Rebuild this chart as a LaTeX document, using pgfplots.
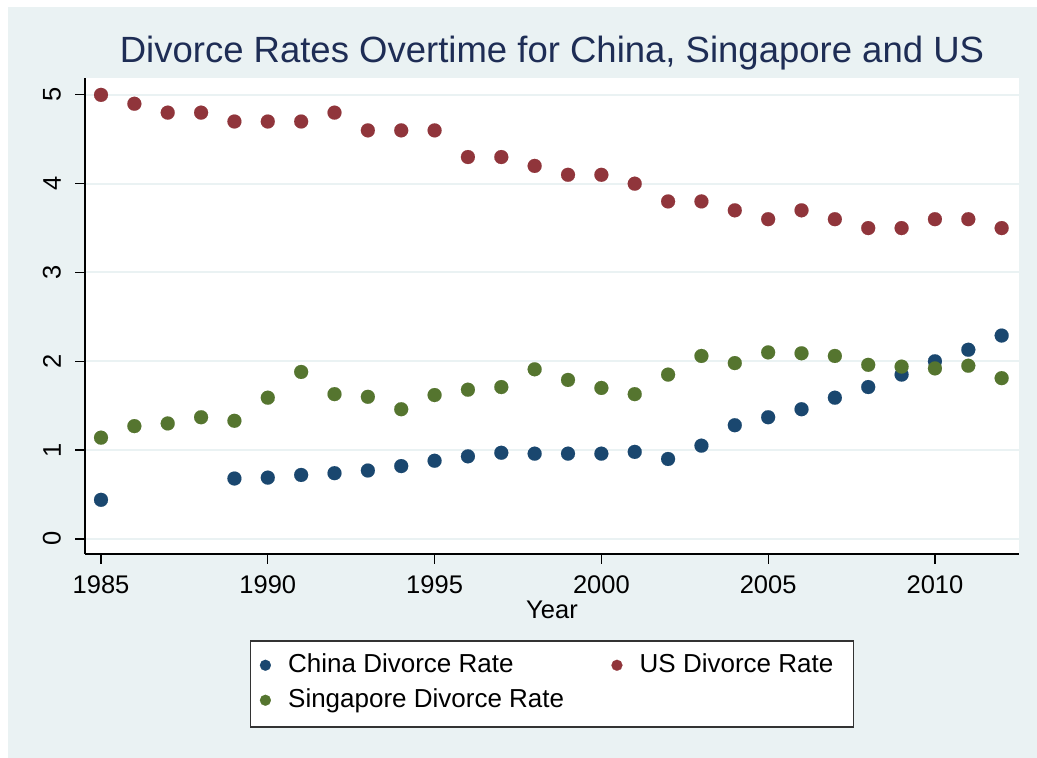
\documentclass[border=0pt]{standalone}
\usepackage{pgfplots}
\pgfplotsset{compat=1.18}
\usepackage{fontspec}
\setmainfont{Liberation Sans}
\definecolor{bgc}{RGB}{234,242,243}
\definecolor{gridc}{RGB}{234,242,243}
\definecolor{titlec}{RGB}{30,45,85}
\definecolor{cnavy}{RGB}{26,71,111}
\definecolor{cmaroon}{RGB}{144,53,59}
\definecolor{cgreen}{RGB}{85,117,47}
\pgfplotstableread{
year china
1985 0.44
1989 0.68
1990 0.69
1991 0.72
1992 0.74
1993 0.77
1994 0.82
1995 0.88
1996 0.93
1997 0.97
1998 0.96
1999 0.96
2000 0.96
2001 0.98
2002 0.90
2003 1.05
2004 1.28
2005 1.37
2006 1.46
2007 1.59
2008 1.71
2009 1.85
2010 2.00
2011 2.13
2012 2.29
}\chinatable
\pgfplotstableread{
year us
1985 5.0
1986 4.9
1987 4.8
1988 4.8
1989 4.7
1990 4.7
1991 4.7
1992 4.8
1993 4.6
1994 4.6
1995 4.6
1996 4.3
1997 4.3
1998 4.2
1999 4.1
2000 4.1
2001 4.0
2002 3.8
2003 3.8
2004 3.7
2005 3.6
2006 3.7
2007 3.6
2008 3.5
2009 3.5
2010 3.6
2011 3.6
2012 3.5
}\ustable
\pgfplotstableread{
year sg
1985 1.14
1986 1.27
1987 1.30
1988 1.37
1989 1.33
1990 1.59
1991 1.88
1992 1.63
1993 1.60
1994 1.46
1995 1.62
1996 1.68
1997 1.71
1998 1.91
1999 1.79
2000 1.70
2001 1.63
2002 1.85
2003 2.06
2004 1.98
2005 2.10
2006 2.09
2007 2.06
2008 1.96
2009 1.94
2010 1.92
2011 1.95
2012 1.81
}\sgtable
\begin{document}
\begin{tikzpicture}
\fill[white] (0pt,0pt) rectangle (1037pt,758pt);
\fill[bgc] (8pt,0pt) rectangle (1037pt,751pt);
\node[font=\fontsize{36.5}{40}\selectfont, text=titlec, anchor=base] at (552pt,695pt) {Divorce Rates Overtime for China, Singapore and US};
\begin{axis}[
  at={(85pt,204pt)}, anchor=south west,
  scale only axis, width=934pt, height=476pt,
  xmin=1984.52, xmax=2012.52, ymin=-0.17, ymax=5.19,
  axis lines=left, axis line style={-, line width=1.2pt, black},
  axis background/.style={fill=white},
  xtick={1985,1990,1995,2000,2005,2010},
  ytick={0,1,2,3,4,5},
  tick align=outside, major tick length=10pt,
  tick style={line width=1.2pt, black},
  ymajorgrids, grid style={gridc, line width=2pt},
  /pgf/number format/1000 sep={},
  /pgf/number format/assume math mode=true,
  ticklabel style={font=\fontsize{25.5}{28}\selectfont},
  yticklabel style={rotate=90, anchor=south, inner sep=0pt, yshift=14pt},
  xticklabel style={anchor=base, inner sep=0pt, yshift=-29pt},
  xlabel={Year},
  xlabel style={at={(axis description cs:0.5,-0.1345)}, anchor=base, font=\fontsize{25.5}{28}\selectfont},
  clip=false,
  legend columns=2,
  legend cell align=left,
  legend style={at={(0.5,-0.1807)}, anchor=north, draw=black!80, line width=1.5pt, fill=white,
    font=\fontsize{26}{28}\selectfont,
    inner xsep=0pt, inner ysep=13pt, row sep=10pt,
    /tikz/every even column/.append style={column sep=38pt},
    nodes={inner sep=0pt, text height=19pt, text depth=6pt}},
  legend image code/.code={\path (-14pt,0pt) (22pt,0pt); \draw[#1, mark size=5.5pt] plot coordinates {(0pt,1pt)};},
]
\addplot[only marks, mark=*, mark size=7pt, color=cnavy, mark options={fill=cnavy, draw=cnavy, line width=0.1pt}] table[x=year,y=china] {\chinatable};
\addlegendentry{China Divorce Rate}
\addplot[only marks, mark=*, mark size=7pt, color=cmaroon, mark options={fill=cmaroon, draw=cmaroon, line width=0.1pt}] table[x=year,y=us] {\ustable};
\addlegendentry{US Divorce Rate\hspace*{20pt}}
\addplot[only marks, mark=*, mark size=7pt, color=cgreen, mark options={fill=cgreen, draw=cgreen, line width=0.1pt}] table[x=year,y=sg] {\sgtable};
\addlegendentry{Singapore Divorce Rate}
\end{axis}
\end{tikzpicture}
\end{document}
